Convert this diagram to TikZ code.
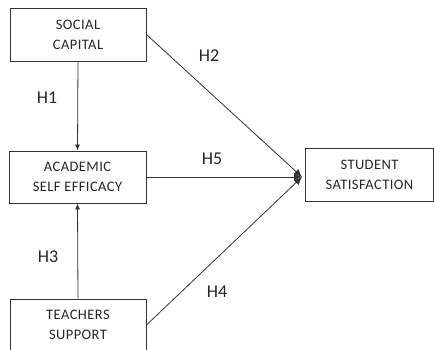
\documentclass[tikz,border=0pt]{standalone}
\usepackage{fontspec}
\setmainfont{Carlito}
\usetikzlibrary{arrows.meta}
\begin{document}
\begin{tikzpicture}[x=1pt,y=-1pt,
  box/.style={draw=black!80,line width=0.9pt,inner sep=0pt,align=center,
    font=\fontsize{14.5}{20}\selectfont\addfontfeature{LetterSpace=3},text=black!85},
  conn/.style={draw=black!80,line width=0.8pt},
  arr/.style={conn,-{Latex[length=6pt,width=5pt]}},
  jarr/.style={conn,-{Latex[length=8pt,width=7pt]}},
  hlab/.style={font=\fontsize{18}{20}\selectfont,text=black!85,inner sep=0pt}]
\useasboundingbox (0,0) rectangle (434,350);
\node[box,minimum width=136pt,minimum height=53pt] (sc) at (78,34.5) {SOCIAL\\CAPITAL};
\node[box,minimum width=137pt,minimum height=52pt] (ase) at (77.5,177) {ACADEMIC\\SELF EFFICACY};
\node[box,minimum width=136pt,minimum height=52pt] (ts) at (78,325) {TEACHERS\\SUPPORT};
\node[box,minimum width=128pt,minimum height=53pt] (ss) at (369.5,174.5) {STUDENT\\SATISFACTION};
\coordinate (J) at (302,177);
\draw[arr] (sc.south) -- (ase.north);
\draw[arr] (ts.north) -- (ase.south);
\draw[jarr] (sc.east) -- (J);
\draw[jarr] (ase.east) -- (J);
\draw[jarr] (ts.east) -- (J);
\node[hlab] (h1) at (47,98) {H1};
\node[hlab] (h2) at (209,56) {H2};
\node[hlab] (h5) at (212,159) {H5};
\node[hlab] (h3) at (48,257) {H3};
\node[hlab] (h4) at (217,292) {H4};
\end{tikzpicture}
\end{document}
